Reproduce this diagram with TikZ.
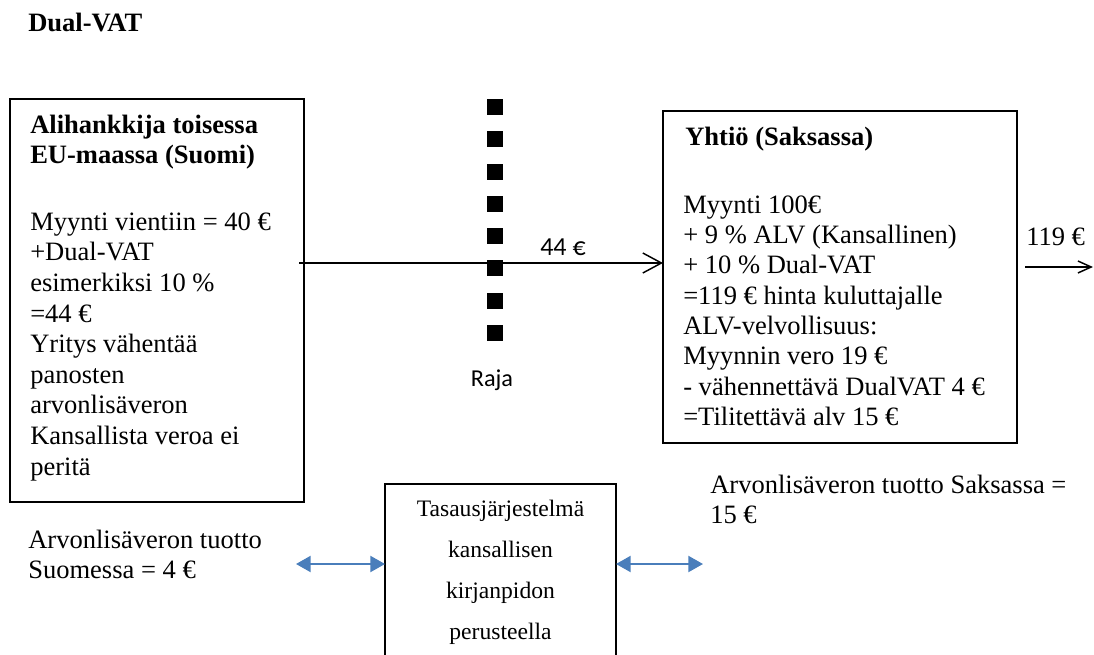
\documentclass[tikz,border=0pt]{standalone}
\usepackage{fontspec}
\setmainfont{Liberation Serif}
\newfontfamily\carlito{Carlito}
\usetikzlibrary{arrows.meta}
\definecolor{arrblue}{HTML}{4A7EBB}
\newcommand{\fstrut}{\rule{0pt}{15.75pt}}
\newcommand{\cstrut}{\rule{0pt}{13.5pt}}
\begin{document}
\begin{tikzpicture}[x=0.75pt,y=-0.75pt,
  box/.style={draw, line width=1.1pt, inner sep=0pt, outer sep=0pt},
  txt/.style={anchor=north west, inner sep=0pt, align=left, font=\fontsize{19.9}{22.95}\selectfont},
  ctxt/.style={anchor=north, inner sep=0pt, align=center, font=\fontsize{17.7}{30.75}\selectfont},
  lbl/.style={anchor=base west, inner sep=0pt, font=\fontsize{19.9}{22.95}\selectfont},
  flow/.style={line width=1.1pt, -{Straight Barb[length=14pt,width=15pt,line width=1.1pt]}},
  flowsmall/.style={line width=1.1pt, -{Straight Barb[length=10pt,width=9pt,line width=1.1pt]}},
  blueboth/.style={arrblue, line width=1.6pt, {Triangle[length=11pt,width=12pt]}-{Triangle[length=11pt,width=12pt]}}
]
\useasboundingbox (0,0) rectangle (1094,655);
\clip (0,0) rectangle (1094,655);

% title
\node[lbl, font=\fontsize{19.9}{22.95}\selectfont\bfseries] (title) at (28,32) {Dual-VAT};

% left box
\node[box, minimum width=220.5pt, minimum height=302.25pt] (lbox) at (157,300.5) {};
\node[txt, font=\fontsize{19.9}{22.95}\selectfont\bfseries] (lhead) at (30,112) {\fstrut Alihankkija toisessa\\EU-maassa (Suomi)};
\node[txt] (lbody) at (30,209) {\fstrut Myynti vientiin = 40 €\\+Dual-VAT\\esimerkiksi 10 \%\\=44 €\\Yritys vähentää\\panosten\\arvonlisäveron\\Kansallista veroa ei\\peritä};

% border
\foreach \k in {0,...,7} \fill (487,{99+\k*32.3}) rectangle ++(16,16);
\node[anchor=base, inner sep=0pt, font=\carlito\fontsize{18.2}{22}\selectfont] (raja) at (492,386) {Raja};

% right box
\node[box, minimum width=265.5pt, minimum height=249pt] (rbox) at (840,277) {};
\node[txt, font=\fontsize{19.9}{22.95}\selectfont\bfseries] (rhead) at (685,124) {\fstrut Yhtiö (Saksassa)};
\node[txt, font=\fontsize{19.9}{22.73}\selectfont] (rbody) at (683,192) {\fstrut Myynti 100€\\+ 9 \% ALV (Kansallinen)\\+ 10 \% Dual-VAT\\=119 € hinta kuluttajalle\\ALV-velvollisuus:\\Myynnin vero 19 €\\- vähennettävä DualVAT 4 €\\=Tilitettävä alv 15 €};

% main flow
\coordinate (a1) at (299,263);
\draw[flow] (a1) -- (a1 -| rbox.west);
\node[anchor=base west, inner sep=0pt, font=\carlito\fontsize{19.5}{22}\selectfont] (l44) at (540,256) {44 €};

\coordinate (o1) at (1025,267);
\coordinate (o2) at (1093,267);
\draw[flowsmall] (o1) -- (o2);
\node[lbl] (l119) at (1026,246) {119 €};

% centre box
\node[box, minimum width=173.25pt, minimum height=147pt] (cbox) at (500.5,582) {};
\node[ctxt] (ctext) at (500.5,498) {\cstrut Tasausjärjestelmä\\kansallisen\\kirjanpidon\\perusteella};

% bottom texts
\node[txt, font=\fontsize{19.9}{22.5}\selectfont] (fi) at (28,527) {\fstrut Arvonlisäveron tuotto\\Suomessa = 4 €};
\node[txt, font=\fontsize{19.9}{22.5}\selectfont] (de) at (710,472) {\fstrut Arvonlisäveron tuotto Saksassa =\\15 €};

% blue arrows
\coordinate (b1) at (296,564);
\coordinate (b2) at (703,564);
\draw[blueboth] (b1) -- (b1 -| cbox.west);
\draw[blueboth] (cbox.east |- b2) -- (b2);
\end{tikzpicture}
\end{document}
